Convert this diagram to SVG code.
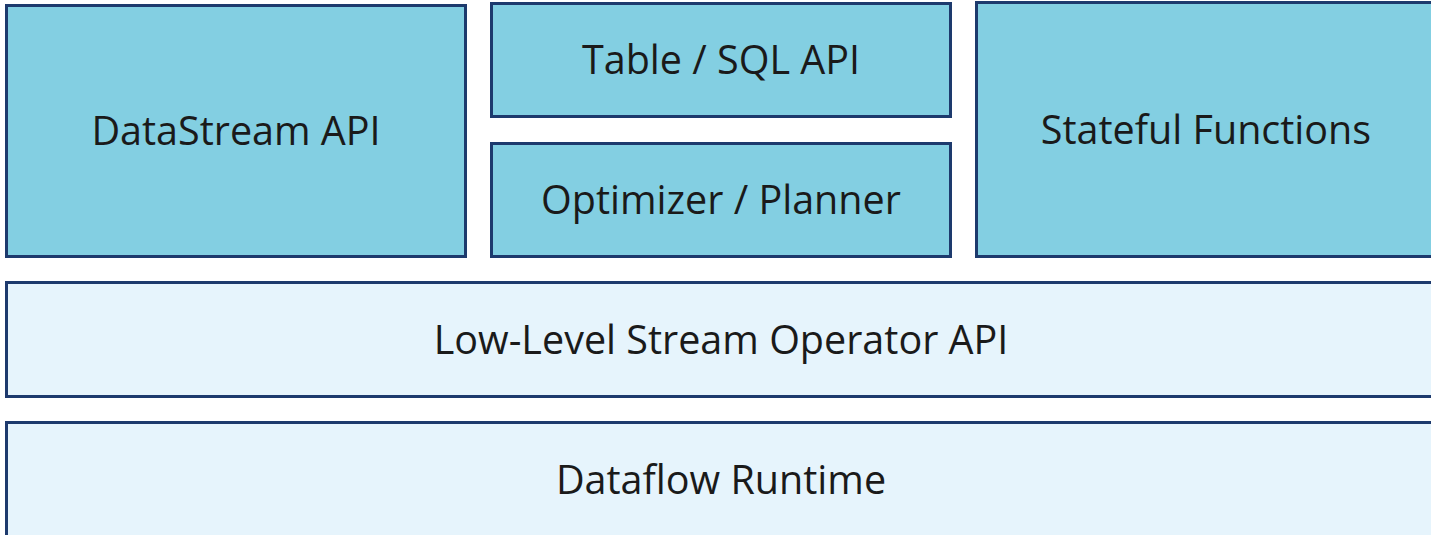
<svg xmlns="http://www.w3.org/2000/svg" width="1431" height="535" viewBox="0 0 1431 535">
  <style>
    .api { fill: #83cfe2; stroke: #1d3a6d; stroke-width: 3; }
    .core { fill: #e6f4fc; stroke: #1d3a6d; stroke-width: 3; }
    .label { font-family: "Open Sans", "Liberation Sans", sans-serif; font-size: 39.5px; fill: #1a1a1a; text-anchor: middle; dominant-baseline: central; }
  </style>
  <rect width="1431" height="535" fill="#ffffff"/>
  <g id="datastream-api">
    <rect class="api" x="6.5" y="5.5" width="459" height="251"/>
    <text class="label" x="236" y="130">DataStream API</text>
  </g>
  <g id="table-sql-api">
    <rect class="api" x="491.5" y="3.5" width="459" height="113"/>
    <text class="label" x="721" y="59">Table / SQL API</text>
  </g>
  <g id="optimizer-planner">
    <rect class="api" x="491.5" y="143.5" width="459" height="113"/>
    <text class="label" x="721" y="199">Optimizer / Planner</text>
  </g>
  <g id="stateful-functions">
    <rect class="api" x="976.5" y="2.5" width="459" height="254"/>
    <text class="label" x="1206" y="129">Stateful Functions</text>
  </g>
  <g id="low-level-operator-api">
    <rect class="core" x="6.5" y="282.5" width="1430" height="114"/>
    <text class="label" x="721" y="339">Low-Level Stream Operator API</text>
  </g>
  <g id="dataflow-runtime">
    <rect class="core" x="6.5" y="422.5" width="1430" height="114"/>
    <text class="label" x="721" y="479">Dataflow Runtime</text>
  </g>
  <g id="connectors"/>
</svg>
